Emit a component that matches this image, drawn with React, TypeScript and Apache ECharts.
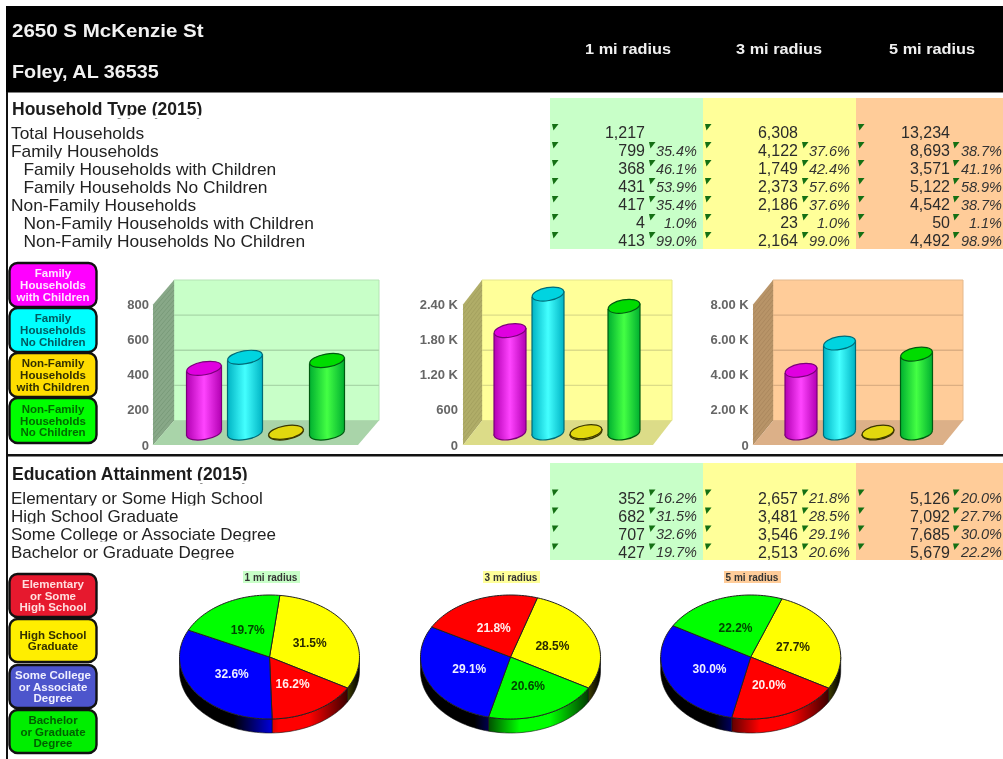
import React, { useEffect, useRef } from "react";
import * as echarts from "echarts";

const addressLines = ["2650 S McKenzie St", "Foley, AL 36535"];
const radiusLabels = ["1 mi radius", "3 mi radius", "5 mi radius"];

const householdLabels = [
  "Total Households",
  "Family Households",
  "Family Households with Children",
  "Family Households No Children",
  "Non-Family Households",
  "Non-Family Households with Children",
  "Non-Family Households No Children",
];
const householdIndent = [0, 0, 1, 1, 0, 1, 1];
const householdCounts = [
  ["1,217", "799", "368", "431", "417", "4", "413"],
  ["6,308", "4,122", "1,749", "2,373", "2,186", "23", "2,164"],
  ["13,234", "8,693", "3,571", "5,122", "4,542", "50", "4,492"],
];
const householdPercents = [
  ["", "35.4%", "46.1%", "53.9%", "35.4%", "1.0%", "99.0%"],
  ["", "37.6%", "42.4%", "57.6%", "37.6%", "1.0%", "99.0%"],
  ["", "38.7%", "41.1%", "58.9%", "38.7%", "1.1%", "98.9%"],
];

const educationLabels = [
  "Elementary or Some High School",
  "High School Graduate",
  "Some College or Associate Degree",
  "Bachelor or Graduate Degree",
];
const educationCounts = [
  ["352", "682", "707", "427"],
  ["2,657", "3,481", "3,546", "2,513"],
  ["5,126", "7,092", "7,685", "5,679"],
];
const educationPercents = [
  ["16.2%", "31.5%", "32.6%", "19.7%"],
  ["21.8%", "28.5%", "29.1%", "20.6%"],
  ["20.0%", "27.7%", "30.0%", "22.2%"],
];

const barCategories = [
  "Family Households with Children",
  "Family Households No Children",
  "Non-Family Households with Children",
  "Non-Family Households No Children",
];
const barValues1 = [368, 431, 4, 413];
const barValues2 = [1749, 2373, 23, 2164];
const barValues3 = [3571, 5122, 50, 4492];
const tickValues1 = [0, 200, 400, 600, 800];
const tickValues2 = [0, 600, 1200, 1800, 2400];
const tickValues3 = [0, 2000, 4000, 6000, 8000];
const tickLabels1 = ["0", "200", "400", "600", "800"];
const tickLabels2 = ["0", "600", "1.20 K", "1.80 K", "2.40 K"];
const tickLabels3 = ["0", "2.00 K", "4.00 K", "6.00 K", "8.00 K"];

const pieNames1 = ["High School Graduate", "Elementary or Some High School", "Some College or Associate Degree", "Bachelor or Graduate Degree"];
const pieNames2 = ["High School Graduate", "Bachelor or Graduate Degree", "Some College or Associate Degree", "Elementary or Some High School"];
const pieNames3 = ["High School Graduate", "Elementary or Some High School", "Some College or Associate Degree", "Bachelor or Graduate Degree"];
const pieValues1 = [31.5, 16.2, 32.6, 19.7];
const pieValues2 = [28.5, 20.6, 29.1, 21.8];
const pieValues3 = [27.7, 20.0, 30.0, 22.2];

const FONT = '"Liberation Sans", Arial, sans-serif';
const TABLE_GREEN = "#c8ffc8";
const TABLE_YELLOW = "#ffff99";
const TABLE_ORANGE = "#ffcc99";
const colBg = [TABLE_GREEN, TABLE_YELLOW, TABLE_ORANGE];
const colX = [550, 703, 856, 1003];
const numRight = [645, 798, 950];
const pctRight = [697, 850, 1002];
const triNum = [552, 705, 858];
const triPct = [649, 802, 953];

const barPalette = [
  { edge: "#b300b3", mid: "#ff44ff", top: "#e000e0", line: "#7a007a" },
  { edge: "#00b4c4", mid: "#44ffff", top: "#00d4e0", line: "#006c78" },
  { edge: "#c8c000", mid: "#ffee22", top: "#e2d80e", line: "#3c3800" },
  { edge: "#00b030", mid: "#44ff44", top: "#00dc00", line: "#005a10" },
];
const pieStyle: Record<string, { fill: string; text: string }> = {
  "Elementary or Some High School": { fill: "#ff0000", text: "#ffeeee" },
  "High School Graduate": { fill: "#ffff00", text: "#2a2a00" },
  "Some College or Associate Degree": { fill: "#0000ff", text: "#eeeeff" },
  "Bachelor or Graduate Degree": { fill: "#00ff00", text: "#004400" },
};

const legendTop = [
  { y: 263, h: 44, fill: "#ff00ff", text: "#ffe6ff", lines: ["Family", "Households", "with Children"] },
  { y: 308, h: 44, fill: "#00ffff", text: "#005a60", lines: ["Family", "Households", "No Children"] },
  { y: 353, h: 44, fill: "#ffdd00", text: "#333000", lines: ["Non-Family", "Households", "with Children"] },
  { y: 398, h: 45, fill: "#00ff00", text: "#006a00", lines: ["Non-Family", "Households", "No Children"] },
];
const legendBottom = [
  { y: 574, h: 43, fill: "#e6192e", text: "#ffdede", lines: ["Elementary", "or Some", "High School"] },
  { y: 619, h: 43, fill: "#ffee00", text: "#333000", lines: ["High School", "Graduate"] },
  { y: 665, h: 43, fill: "#4d55cc", text: "#f0f0ff", lines: ["Some College", "or Associate", "Degree"] },
  { y: 710, h: 43, fill: "#00ee00", text: "#006000", lines: ["Bachelor", "or Graduate", "Degree"] },
];

function txt(text: string, x: number, y: number, o: any = {}) {
  const { scaleX = 1, z = 3, ...style } = o;
  return {
    type: "text",
    x,
    y,
    scaleX,
    z,
    silent: true,
    style: {
      text,
      x: 0,
      y: 0,
      fontFamily: FONT,
      fontSize: 16,
      fill: "#222",
      align: "left",
      verticalAlign: "middle",
      ...style,
    },
  };
}
function box(x: number, y: number, width: number, height: number, fill: string, z = 1, r = 0, stroke?: string, lineWidth = 0) {
  return { type: "rect", z, silent: true, shape: { x, y, width, height, r }, style: { fill, stroke, lineWidth } };
}
function tri(x: number, y: number) {
  return {
    type: "polygon",
    z: 4,
    silent: true,
    shape: { points: [[x, y], [x + 6.5, y], [x + 1.5, y + 6.5]] },
    style: { fill: "#147014" },
  };
}

function tableRows(
  labels: string[],
  centers: number[],
  counts: string[][],
  percents: string[][],
  indent: number[],
  triOffset: number,
  numShift: number,
  labelScale: number,
) {
  const out: any[] = [];
  labels.forEach((label, i) => {
    const cy = centers[i];
    out.push(txt(label, indent[i] ? 23.5 : 11, cy + 1, { scaleX: labelScale, z: 3 }));
    // the source's rows cut their descenders off
    out.push(box(9, cy + 7.5, 535, 3, "#ffffff", 4));
    [0, 1, 2].forEach((c) => {
      out.push(tri(triNum[c], cy - triOffset));
      out.push(txt(counts[c][i], numRight[c], cy + numShift, { align: "right", fill: "#2b2b2b", z: 5 }));
      if (percents[c][i]) {
        out.push(tri(triPct[c], cy - triOffset));
        out.push(
          txt(percents[c][i], pctRight[c], cy, {
            align: "right",
            fontSize: 14.5,
            fontStyle: "italic",
            fill: "#333",
            z: 5,
          }),
        );
      }
    });
  });
  return out;
}

function legend(items: typeof legendTop) {
  const out: any[] = [];
  items.forEach((it) => {
    out.push(box(9.5, it.y, 87, it.h, it.fill, 2, 8, "#111", 2.4));
    const n = it.lines.length;
    it.lines.forEach((l, k) => {
      out.push(
        txt(l, 53, it.y + it.h / 2 + (k - (n - 1) / 2) * 11.8, {
          align: "center",
          fontWeight: "bold",
          fontSize: 11.5,
          fill: it.text,
        }),
      );
    });
  });
  return out;
}

function buildGraphic() {
  const g: any[] = [];
  g.push(box(6, 6, 997, 86.5, "#000000"));
  g.push(box(6, 92, 2, 667, "#111111"));
  g.push(box(6, 454, 997, 2.4, "#111111"));
  g.push(txt(addressLines[0], 12, 30, { fontWeight: "bold", fontSize: 19, fill: "#f2f2f2", scaleX: 1.08 }));
  g.push(txt(addressLines[1], 12, 71, { fontWeight: "bold", fontSize: 19, fill: "#f2f2f2", scaleX: 1.04 }));
  radiusLabels.forEach((l, i) => {
    g.push(txt(l, [628, 779, 932][i], 48.5, { fontWeight: "bold", fontSize: 15.5, fill: "#f0f0f0", align: "center", scaleX: 1.05 }));
  });
  g.push(txt("Household Type (2015)", 12, 108.5, { fontWeight: "bold", fontSize: 17.5, fill: "#1c1c1c" }));
  g.push(box(9, 115.5, 300, 3, "#ffffff", 4));
  g.push(txt("Education Attainment (2015)", 12, 473.5, { fontWeight: "bold", fontSize: 17.5, fill: "#1c1c1c" }));
  g.push(box(9, 480.5, 300, 3, "#ffffff", 4));
  [0, 1, 2].forEach((c) => {
    g.push(box(colX[c], 98, colX[c + 1] - colX[c], 151, colBg[c]));
    g.push(box(colX[c], 463, colX[c + 1] - colX[c], 97, colBg[c]));
  });
  g.push(...tableRows(householdLabels, [133, 151, 169, 187, 205, 223, 241], householdCounts, householdPercents, householdIndent, 9, -1, 1.085));
  g.push(...tableRows(educationLabels, [498, 516, 534, 552], educationCounts, educationPercents, [0, 0, 0, 0], 8.5, 0, 1.065));
  g.push(...legend(legendTop));
  g.push(...legend(legendBottom));
  [271, 511, 752].forEach((cx, i) => {
    g.push(box(cx - 28, 571, 57, 12, colBg[i]));
    g.push(txt(radiusLabels[i], cx, 577, { align: "center", fontWeight: "bold", fontSize: 10, fill: "#333" }));
  });
  return g;
}

const DEPTH_Y = 24.5;
const BAR_BASE_LIFT = 12;

function wallSeries(idx: number, ticks: number[], frontX: number, dx: number, rightX: number, c: any) {
  return {
    type: "custom",
    xAxisIndex: idx,
    yAxisIndex: idx,
    z: 1,
    clip: false,
    silent: true,
    data: [[0, 0]],
    renderItem(_p: any, api: any) {
      const y0 = api.coord([0, 0])[1];
      const yTop = api.coord([0, ticks[ticks.length - 1]])[1];
      const bx = frontX + dx;
      const children: any[] = [];
      children.push({
        type: "polygon",
        shape: { points: [[bx, yTop - DEPTH_Y], [rightX, yTop - DEPTH_Y], [rightX, y0 - DEPTH_Y], [bx, y0 - DEPTH_Y]] },
        style: { fill: c.back, stroke: c.edge, lineWidth: 1 },
      });
      children.push({
        type: "polygon",
        shape: { points: [[frontX, yTop], [bx, yTop - DEPTH_Y], [bx, y0 - DEPTH_Y], [frontX, y0]] },
        style: { fill: c.side },
      });
      for (let y = yTop + 5; y < y0; y += 5) {
        children.push({
          type: "line",
          shape: { x1: frontX, y1: y, x2: bx, y2: y - DEPTH_Y },
          style: { stroke: c.hatch, lineWidth: 1, opacity: 0.35 },
        });
      }
      children.push({
        type: "polygon",
        shape: { points: [[frontX, y0], [bx, y0 - DEPTH_Y], [rightX, y0 - DEPTH_Y], [rightX - dx, y0]] },
        style: { fill: c.floor },
      });
      ticks.slice(1, -1).forEach((t) => {
        const y = api.coord([0, t])[1] - DEPTH_Y;
        children.push({
          type: "line",
          shape: { x1: bx, y1: y, x2: rightX, y2: y },
          style: { stroke: c.grid, lineWidth: 1.4 },
        });
      });
      return { type: "group", children };
    },
  };
}

function cylinderSeries(idx: number, values: number[], width: number) {
  return {
    type: "custom",
    xAxisIndex: idx,
    yAxisIndex: idx,
    z: 3,
    clip: false,
    silent: true,
    encode: { x: 0, y: 1 },
    data: values.map((v, i) => [i, v]),
    renderItem(params: any, api: any) {
      const i = api.value(0);
      const v = api.value(1);
      const c = barPalette[params.dataIndex];
      const [cx, rawTop] = api.coord([i, v]);
      const rawBase = api.coord([i, 0])[1];
      const top = rawTop - BAR_BASE_LIFT;
      const base = rawBase - BAR_BASE_LIFT;
      const hw = width / 2;
      const ry = 6.5;
      const tilt = 0.17;
      const sl = hw * Math.sin(tilt);
      const grad = new echarts.graphic.LinearGradient(0, 0, 1, 0, [
        { offset: 0, color: c.edge },
        { offset: 0.5, color: c.mid },
        { offset: 1, color: c.edge },
      ]);
      const ell = (y: number, fill: any) => ({
        type: "ellipse",
        x: cx,
        y,
        rotation: tilt,
        shape: { cx: 0, cy: 0, rx: hw, ry },
        style: { fill, stroke: c.line, lineWidth: 1.2 },
      });
      return {
        type: "group",
        children: [
          ell(base, grad),
          {
            type: "polygon",
            shape: { points: [[cx - hw, top + sl], [cx + hw, top - sl], [cx + hw, base - sl], [cx - hw, base + sl]] },
            style: { fill: grad },
          },
          { type: "line", shape: { x1: cx - hw, y1: top + sl, x2: cx - hw, y2: base + sl }, style: { stroke: c.line, lineWidth: 1.2 } },
          { type: "line", shape: { x1: cx + hw, y1: top - sl, x2: cx + hw, y2: base - sl }, style: { stroke: c.line, lineWidth: 1.2 } },
          ell(top, c.top),
        ],
      };
    },
  };
}

function pieSeries(names: string[], values: number[], cx: number, cy: number, startDeg: number) {
  const rx = 90;
  const ry = 62;
  const depth = 14;
  const total = values.reduce((a, b) => a + b, 0);
  const pt = (deg: number, drop = 0, f = 1) => {
    const r = (deg * Math.PI) / 180;
    return [cx + rx * f * Math.sin(r), cy - ry * f * Math.cos(r) + drop];
  };
  const starts: number[] = [];
  let acc = startDeg;
  values.forEach((v) => {
    starts.push(acc);
    acc += (v / total) * 360;
  });
  return {
    type: "custom",
    coordinateSystem: "none",
    z: 3,
    clip: false,
    silent: true,
    data: values.map((v) => [v]),
    renderItem(params: any, api: any) {
      const i = params.dataIndex;
      const sweep = (api.value(0) / total) * 360;
      const a0 = starts[i];
      const a1 = a0 + sweep;
      const st = pieStyle[names[i]];
      const children: any[] = [];
      const s = Math.max(a0, 90);
      const e = Math.min(a1, 270);
      if (e > s) {
        const upper: number[][] = [];
        const lower: number[][] = [];
        for (let d = s; d < e; d += 2) {
          upper.push(pt(d));
          lower.push(pt(d, depth));
        }
        upper.push(pt(e));
        lower.push(pt(e, depth));
        children.push({
          type: "polygon",
          shape: { points: [...upper, ...lower.reverse()] },
          style: {
            fill: new echarts.graphic.LinearGradient(
              cx - rx,
              0,
              cx + rx,
              0,
              [
                { offset: 0, color: "#000000" },
                { offset: 0.3, color: "#000000" },
                { offset: 0.55, color: st.fill },
                { offset: 0.72, color: st.fill },
                { offset: 1, color: "#000000" },
              ],
              true,
            ),
            stroke: "#111",
            lineWidth: 0.6,
          },
        });
      }
      const pts: number[][] = [[cx, cy]];
      for (let d = a0; d < a1; d += 2) pts.push(pt(d));
      pts.push(pt(a1));
      children.push({
        type: "polygon",
        shape: { points: pts },
        style: { fill: st.fill, stroke: "#222", lineWidth: 1 },
      });
      const mid = pt((a0 + a1) / 2, 0, 0.5);
      children.push({
        type: "text",
        z2: 10,
        style: {
          text: api.value(0).toFixed(1) + "%",
          x: mid[0],
          y: mid[1],
          align: "center",
          verticalAlign: "middle",
          fontFamily: FONT,
          fontWeight: "bold",
          fontSize: 12,
          fill: st.text,
        },
      });
      return { type: "group", children };
    },
  };
}

function yAxis(idx: number, max: number, interval: number, labels: string[], margin: number) {
  return {
    type: "value",
    gridIndex: idx,
    min: 0,
    max,
    interval,
    axisLine: { show: false },
    axisTick: { show: false },
    splitLine: { show: false },
    axisLabel: {
      margin,
      color: "#666666",
      fontFamily: FONT,
      fontSize: 13,
      fontWeight: "bold",
      formatter: (v: number) => labels[Math.round(v / interval)],
    },
  };
}
function xAxis(idx: number) {
  return { type: "category", gridIndex: idx, data: barCategories, show: false };
}
function grid(left: number, width: number) {
  return { left, width, top: 304.5, height: 140.5, containLabel: false };
}

export default function App() {
  const ref = useRef<HTMLDivElement>(null);
  useEffect(() => {
    const chart = echarts.init(ref.current!, undefined, { renderer: "svg" });
    chart.setOption({
      animation: false,
      backgroundColor: "#ffffff",
      graphic: { elements: buildGraphic() },
      grid: [grid(183.5, 164), grid(491, 152), grid(781.75, 154)],
      xAxis: [xAxis(0), xAxis(1), xAxis(2)],
      yAxis: [
        yAxis(0, 800, 200, tickLabels1, 34.5),
        yAxis(1, 2400, 600, tickLabels2, 33),
        yAxis(2, 8000, 2000, tickLabels3, 33),
      ],
      series: [
        wallSeries(0, tickValues1, 153, 21, 379, { back: TABLE_GREEN, edge: "#b4e4b4", side: "#88a888", hatch: "#5f805f", floor: "#a9d4a9", grid: "#a8d8a8" }),
        wallSeries(1, tickValues2, 463, 19, 672, { back: TABLE_YELLOW, edge: "#e6e68c", side: "#b0ad68", hatch: "#8c8a4c", floor: "#dcdc88", grid: "#dcdc88" }),
        wallSeries(2, tickValues3, 753, 20, 963, { back: TABLE_ORANGE, edge: "#e4b88c", side: "#b89468", hatch: "#94744c", floor: "#dcb088", grid: "#dcae82" }),
        cylinderSeries(0, barValues1, 35),
        cylinderSeries(1, barValues2, 32),
        cylinderSeries(2, barValues3, 32),
        pieSeries(pieNames1, pieValues1, 269.5, 657, 6.6),
        pieSeries(pieNames2, pieValues2, 510.5, 657, 17.4),
        pieSeries(pieNames3, pieValues3, 750.7, 657, 20.3),
      ],
    });
    return () => chart.dispose();
  }, []);
  return (
    <div
      ref={ref}
      style={{ position: "fixed", left: 0, top: 0, width: 1003, height: 759, background: "#fff", filter: "blur(0.6px)" }}
    />
  );
}
